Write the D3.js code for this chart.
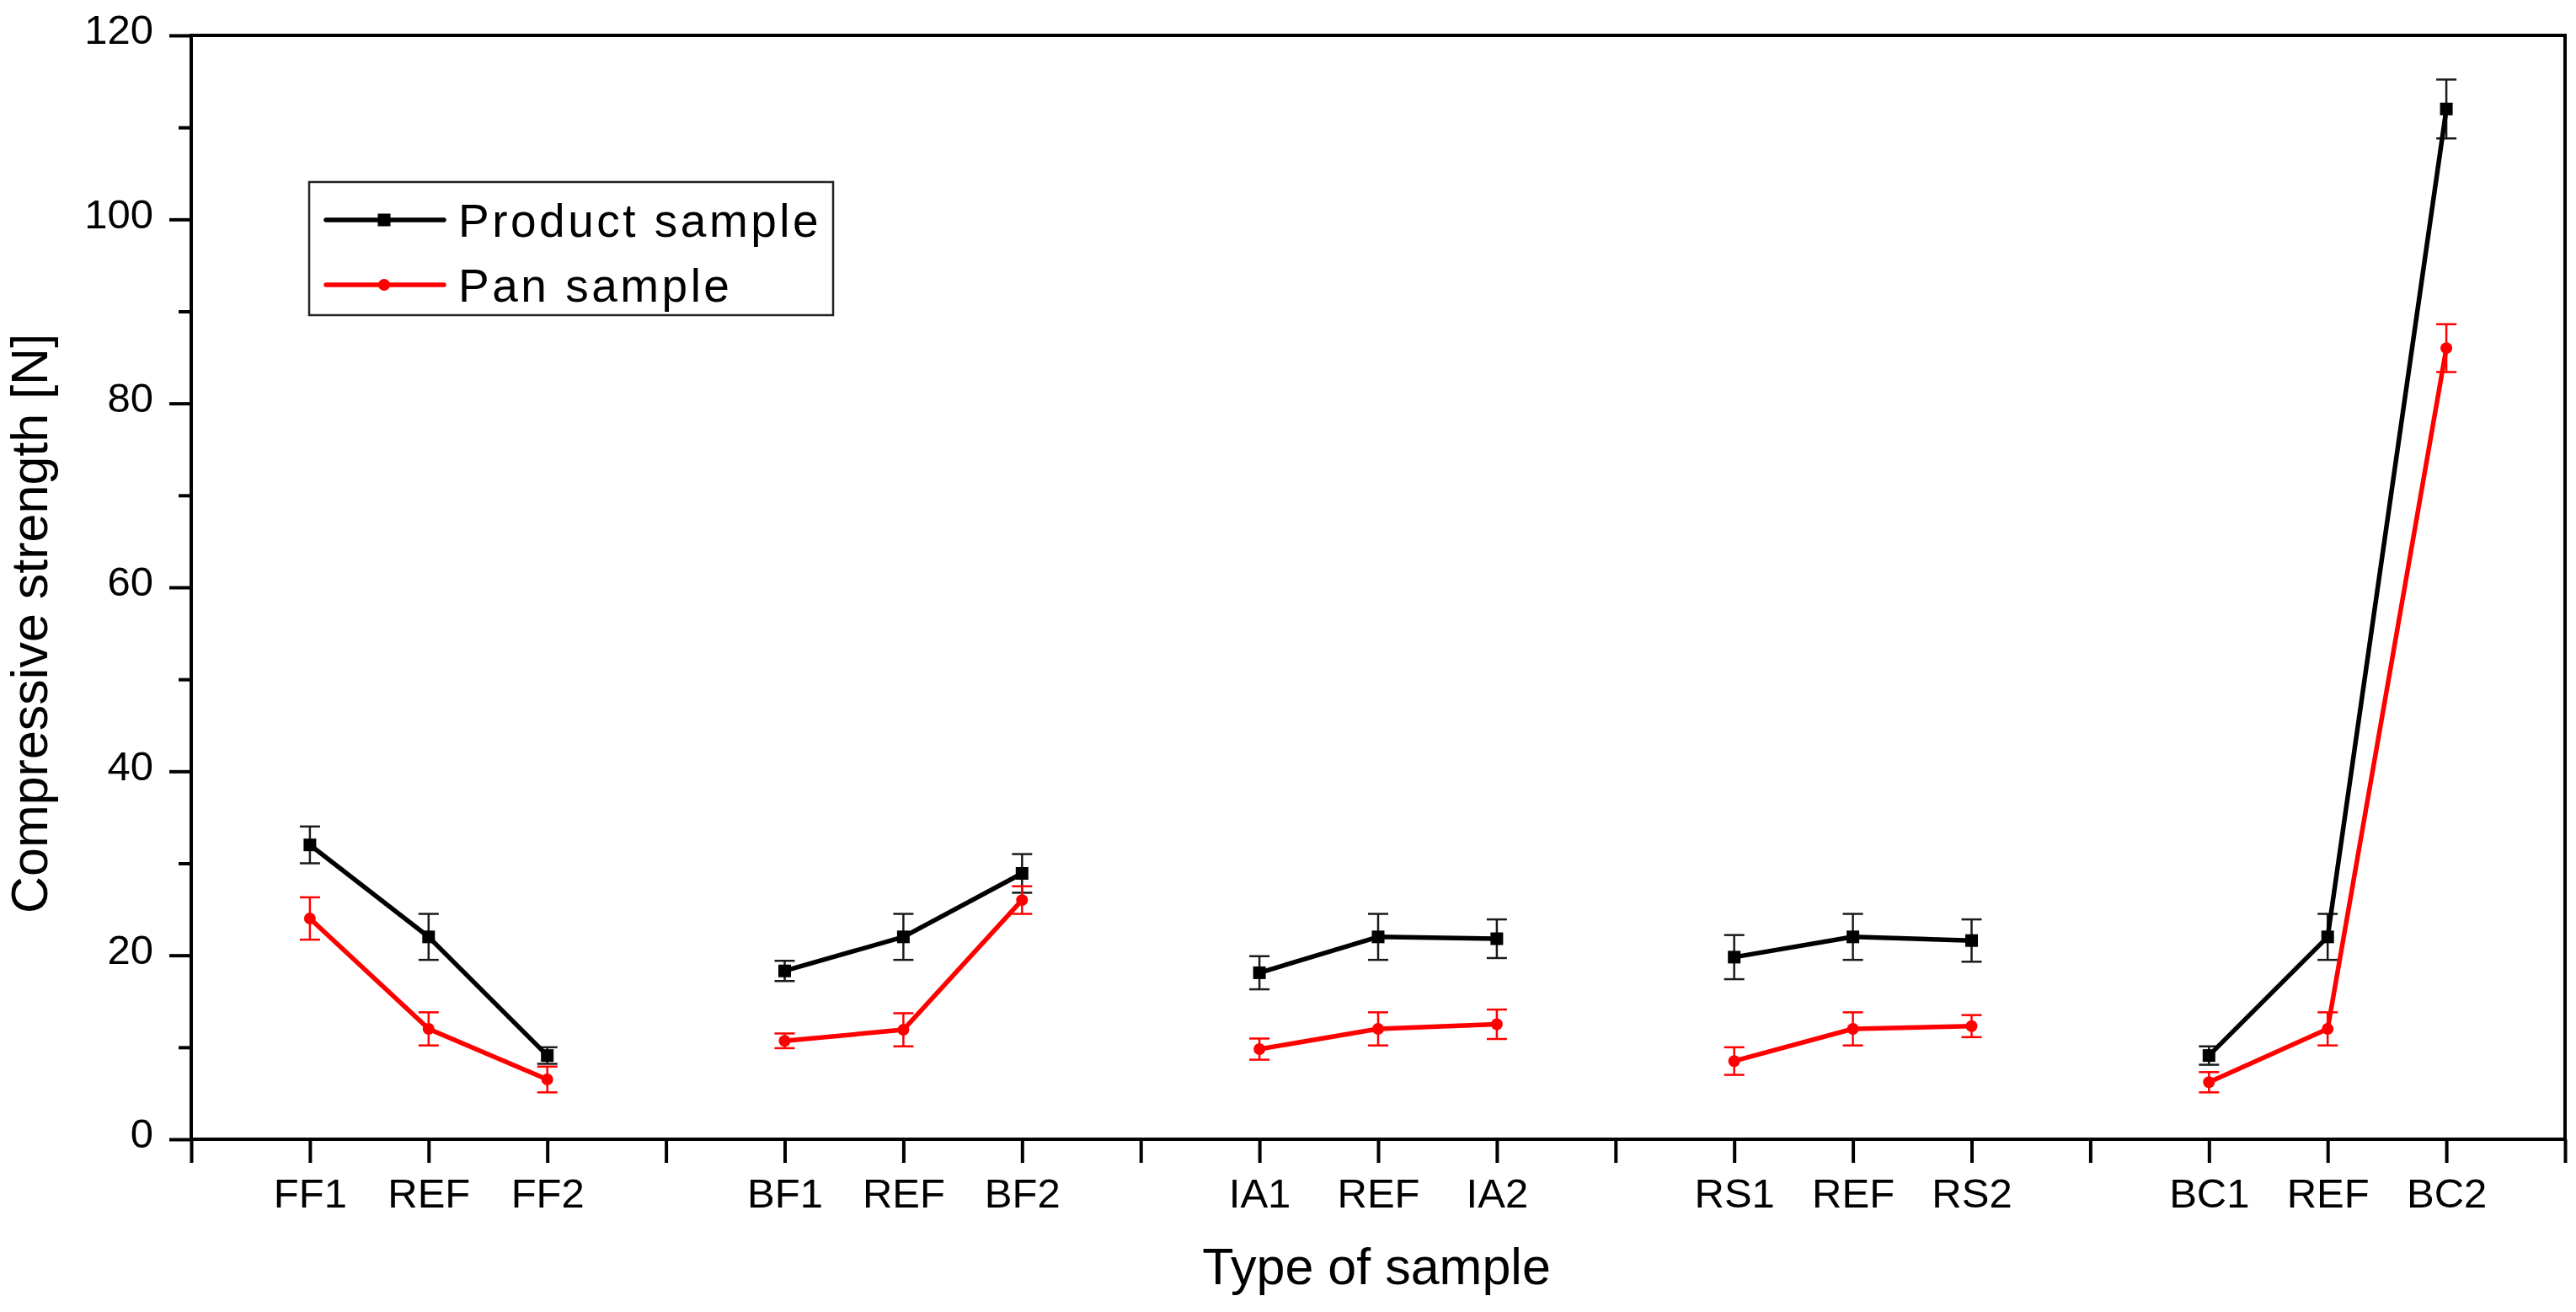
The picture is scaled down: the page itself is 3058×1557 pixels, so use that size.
<!DOCTYPE html>
<html>
<head>
<meta charset="utf-8">
<script src="https://cdn.jsdelivr.net/npm/d3@7"></script>
<style>
html,body{margin:0;padding:0;background:#fff;}
svg{display:block;}
text{font-family:"Liberation Sans", Arial, sans-serif;fill:#000;}
</style>
</head>
<body>
<svg id="chart" width="3058" height="1557"></svg>
<script>
// ---- data ----
const categories = ["FF1","REF","FF2","BF1","REF","BF2","IA1","REF","IA2","RS1","REF","RS2","BC1","REF","BC2"];
const productValues = [32.0, 22.0, 9.1, 18.3, 22.0, 28.9, 18.1, 22.0, 21.8, 19.8, 22.0, 21.6, 9.1, 22.0, 112.0];
const productErrors = [2.0, 2.5, 0.9, 1.1, 2.5, 2.1, 1.8, 2.5, 2.1, 2.4, 2.5, 2.3, 1.0, 2.5, 3.2];
const panValues = [24.0, 12.0, 6.5, 10.7, 11.9, 26.0, 9.8, 12.0, 12.5, 8.5, 12.0, 12.3, 6.2, 12.0, 86.0];
const panErrors = [2.3, 1.8, 1.4, 0.8, 1.8, 1.5, 1.15, 1.8, 1.6, 1.5, 1.8, 1.2, 1.1, 1.8, 2.6];
const yMajorTicks = [0, 20, 40, 60, 80, 100, 120];
const yMinorTicks = [10, 30, 50, 70, 90, 110];
const seriesNames = ["Product sample", "Pan sample"];
const groupSize = 3;

// ---- layout ----
const svg = d3.select("#chart");
const L = 227, R = 3045, T = 42, B = 1352;
const nSlots = categories.length + categories.length / groupSize + 1; // 20 slots incl. gaps
const pos = i => i + Math.floor(i / groupSize) + 1;
const x = d3.scaleLinear().domain([0, 20]).range([L, R]);
const y = d3.scaleLinear().domain([0, 120]).range([B, T]);

const labelAt = {};
categories.forEach((c, i) => labelAt[pos(i)] = c);

// x axis
const xAxis = d3.axisBottom(x)
  .tickValues(d3.range(0, 21))
  .tickSize(28)
  .tickPadding(18)
  .tickFormat(v => labelAt[v] || "");
const gx = svg.append("g").attr("transform", `translate(0,${B})`).call(xAxis);
gx.select(".domain").remove();
gx.selectAll(".tick line").attr("stroke", "#000").attr("stroke-width", 4);
gx.selectAll(".tick text").attr("font-size", 49).attr("fill", "#000")
  .attr("font-family", "Liberation Sans, Arial, sans-serif");

// y axis major
const yAxis = d3.axisLeft(y).tickValues(yMajorTicks).tickSize(26).tickPadding(19).tickFormat(d3.format("d"));
const gy = svg.append("g").attr("transform", `translate(${L},0)`).call(yAxis);
gy.select(".domain").remove();
gy.selectAll(".tick line").attr("stroke", "#000").attr("stroke-width", 4);
gy.selectAll(".tick text").attr("font-size", 49).attr("fill", "#000").attr("dy", "0.2em")
  .attr("font-family", "Liberation Sans, Arial, sans-serif");
// y minor
const gym = svg.append("g").attr("transform", `translate(${L},0)`)
  .call(d3.axisLeft(y).tickValues(yMinorTicks).tickSize(15).tickFormat(""));
gym.select(".domain").remove();
gym.selectAll(".tick line").attr("stroke", "#000").attr("stroke-width", 4);

// frame
svg.append("rect").attr("x", L).attr("y", T).attr("width", R - L).attr("height", B - T)
  .attr("fill", "none").attr("stroke", "#000").attr("stroke-width", 4);

// series
function drawSeries(values, errors, color, marker, errColor) {
  const g = svg.append("g");
  const pts = values.map((v, i) => ({ i, v, e: errors[i], gr: Math.floor(i / groupSize) }));
  // error bars
  const eb = g.append("g").attr("stroke", errColor).attr("stroke-width", 2.5).attr("fill", "none");
  pts.forEach(p => {
    const cx = x(pos(p.i));
    eb.append("line").attr("x1", cx).attr("x2", cx).attr("y1", y(p.v + p.e)).attr("y2", y(p.v - p.e));
    eb.append("line").attr("x1", cx - 12).attr("x2", cx + 12).attr("y1", y(p.v + p.e)).attr("y2", y(p.v + p.e));
    eb.append("line").attr("x1", cx - 12).attr("x2", cx + 12).attr("y1", y(p.v - p.e)).attr("y2", y(p.v - p.e));
  });
  // lines per group
  const line = d3.line().x(p => x(pos(p.i))).y(p => y(p.v));
  d3.groups(pts, p => p.gr).forEach(([k, arr]) => {
    g.append("path").attr("d", line(arr)).attr("fill", "none").attr("stroke", color)
      .attr("stroke-width", 5.5).attr("stroke-linejoin", "round");
  });
  // markers
  pts.forEach(p => {
    const cx = x(pos(p.i)), cy = y(p.v);
    if (marker === "square") {
      g.append("rect").attr("x", cx - 7.5).attr("y", cy - 7.5).attr("width", 15).attr("height", 15).attr("fill", color);
    } else {
      g.append("circle").attr("cx", cx).attr("cy", cy).attr("r", 7).attr("fill", color);
    }
  });
}
drawSeries(productValues, productErrors, "#000000", "square", "#1a1a1a");
drawSeries(panValues, panErrors, "#ff0000", "circle", "#ff0000");

// legend
const lg = svg.append("g");
lg.append("rect").attr("x", 367).attr("y", 216).attr("width", 622).attr("height", 158)
  .attr("fill", "#fff").attr("stroke", "#222").attr("stroke-width", 2.5);
const legendItems = [
  { name: seriesNames[0], color: "#000000", marker: "square", ly: 261 },
  { name: seriesNames[1], color: "#ff0000", marker: "circle", ly: 338 }
];
legendItems.forEach(it => {
  lg.append("line").attr("x1", 387).attr("x2", 527).attr("y1", it.ly).attr("y2", it.ly)
    .attr("stroke", it.color).attr("stroke-width", 5.5).attr("stroke-linecap", "round");
  if (it.marker === "square") {
    lg.append("rect").attr("x", 456 - 7.5).attr("y", it.ly - 7.5).attr("width", 15).attr("height", 15).attr("fill", it.color);
  } else {
    lg.append("circle").attr("cx", 456).attr("cy", it.ly).attr("r", 7).attr("fill", it.color);
  }
  lg.append("text").attr("x", 544).attr("y", it.ly + 20).attr("font-size", 55)
    .attr("letter-spacing", "3.5px").text(it.name);
});

// axis titles
svg.append("text").attr("transform", "translate(56,740) rotate(-90)")
  .attr("text-anchor", "middle").attr("font-size", 61).text("Compressive strength [N]");
svg.append("text").attr("x", 1634).attr("y", 1524)
  .attr("text-anchor", "middle").attr("font-size", 61).text("Type of sample");
</script>
</body>
</html>
